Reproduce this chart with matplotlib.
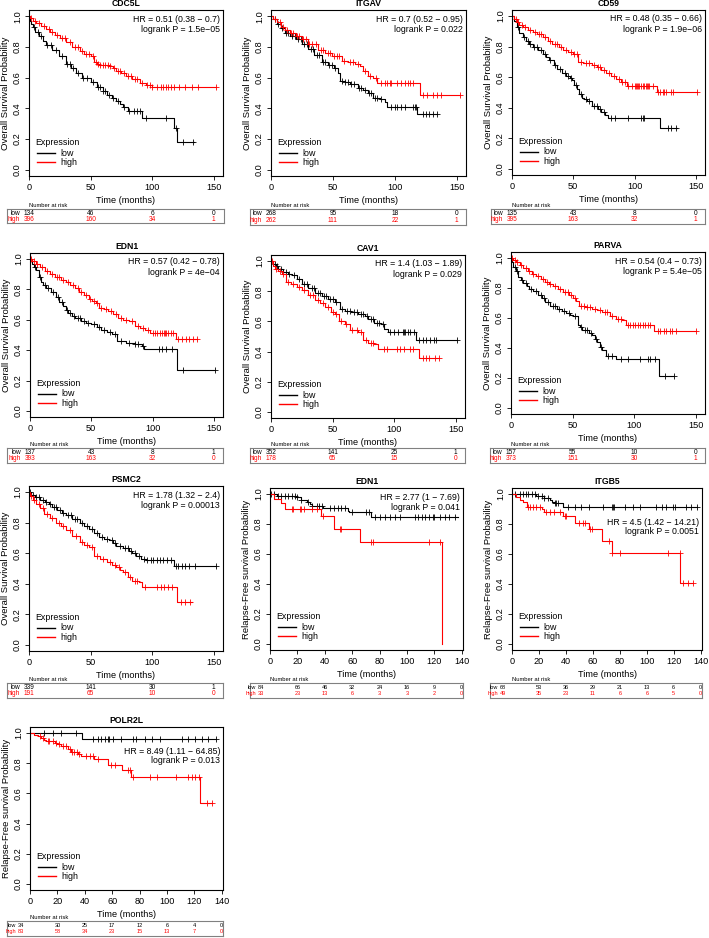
import matplotlib
matplotlib.use('Agg')
import matplotlib.pyplot as plt
import numpy as np
from matplotlib import transforms as mtrans

plt.rcParams['font.family'] = ['Liberation Sans', 'DejaVu Sans']

# ---------------- data ----------------
titles = ["CDC5L", "ITGAV", "CD59", "EDN1", "CAV1", "PARVA", "PSMC2", "EDN1", "ITGB5", "POLR2L"]
hr_lines = ["HR = 0.51 (0.38 \u2212 0.7)", "HR = 0.7 (0.52 \u2212 0.95)", "HR = 0.48 (0.35 \u2212 0.66)",
            "HR = 0.57 (0.42 \u2212 0.78)", "HR = 1.4 (1.03 \u2212 1.89)", "HR = 0.54 (0.4 \u2212 0.73)",
            "HR = 1.78 (1.32 \u2212 2.4)", "HR = 2.77 (1 \u2212 7.69)", "HR = 4.5 (1.42 \u2212 14.21)",
            "HR = 8.49 (1.11 \u2212 64.85)"]
p_lines = ["logrank P = 1.5e\u221205", "logrank P = 0.022", "logrank P = 1.9e\u221206",
           "logrank P = 4e\u221204", "logrank P = 0.029", "logrank P = 5.4e\u221205",
           "logrank P = 0.00013", "logrank P = 0.041", "logrank P = 0.0051", "logrank P = 0.013"]
endpoint = ["OS", "OS", "OS", "OS", "OS", "OS", "OS", "RFS", "RFS", "RFS"]

os_risk_times = [0, 50, 100, 150]
rfs_risk_times = [0, 20, 40, 60, 80, 100, 120, 140]
risk_low = [[134, 46, 6, 0], [268, 95, 18, 0], [135, 43, 8, 0], [137, 43, 8, 1], [352, 141, 25, 1],
            [157, 55, 10, 0], [339, 141, 30, 1], [84, 66, 46, 32, 24, 16, 9, 0],
            [68, 53, 36, 29, 21, 13, 6, 0], [34, 30, 25, 17, 12, 6, 4, 0]]
risk_high = [[396, 160, 34, 1], [262, 111, 22, 1], [395, 163, 32, 1], [393, 163, 32, 0], [178, 65, 15, 0],
             [373, 151, 30, 1], [191, 65, 10, 0], [33, 23, 13, 6, 3, 3, 2, 0],
             [49, 35, 23, 11, 6, 6, 5, 0], [83, 58, 34, 23, 15, 13, 7, 0]]

# CDC5L
cdc5l_low_t = [0, 1, 2, 3.2, 5, 8, 11, 14, 19, 24, 30, 34, 38, 43, 50, 55, 60, 63, 67, 71, 74, 76, 80, 92, 118, 120, 134]
cdc5l_low_s = [1, .97, .95, .93, .90, .87, .84, .81, .78, .74, .69, .66, .63, .60, .57, .54, .51, .49, .47, .45, .43, .41, .385, .34, .27, .18, .18]
cdc5l_low_c = [4, 7, 10, 15, 18, 22, 27, 31, 33, 36, 40, 44, 47, 52, 56, 58, 60, 62, 65, 68, 72, 77, 81, 85, 88, 90, 95, 111, 119, 125, 133]
cdc5l_high_t = [0, 1, 3, 6, 10, 14, 17, 21, 25, 30, 35, 41, 45, 50, 53, 55, 57, 65, 68, 71, 75, 79, 84, 90, 95, 100, 152]
cdc5l_high_s = [1, .99, .97, .955, .935, .915, .90, .88, .86, .83, .80, .77, .755, .74, .70, .69, .68, .675, .66, .645, .63, .61, .59, .565, .55, .54, .54]
cdc5l_high_c = [2, 5, 8, 12, 16, 19, 23, 27, 29, 33, 37, 40, 43, 46, 49, 52, 54, 56, 58, 60, 62, 64, 66, 69, 72, 74, 77, 80, 83, 86, 88, 92, 96, 98, 100, 104, 107, 109, 111, 113, 115, 118, 122, 127, 132, 137, 152]

# ITGAV
itgav_low_t = [0, 2, 5, 8, 11, 15, 20, 25, 30, 35, 41, 46, 51, 54, 56, 60, 64, 70, 74, 78, 82, 88, 92, 94, 118, 134]
itgav_low_s = [1, .98, .95, .92, .89, .87, .85, .82, .785, .75, .70, .68, .665, .63, .58, .57, .56, .53, .52, .50, .47, .46, .44, .41, .365, .365]
itgav_low_c = [3, 6, 9, 12, 14, 17, 19, 22, 24, 27, 29, 32, 34, 37, 39, 42, 44, 47, 49, 52, 57, 60, 62, 65, 67, 71, 73, 76, 79, 81, 84, 86, 89, 97, 100, 102, 105, 108, 115, 116, 117, 123, 125, 128, 131, 134]
itgav_high_t = [0, 2, 5, 8, 11, 15, 20, 25, 30, 38, 44, 49, 57, 62, 68, 72, 74, 78, 82, 86, 120, 153]
itgav_high_s = [1, .98, .96, .93, .91, .89, .87, .85, .82, .78, .76, .74, .71, .70, .69, .675, .64, .61, .60, .565, .49, .49]
itgav_high_c = [3, 7, 10, 13, 16, 18, 21, 23, 26, 28, 31, 33, 36, 40, 42, 46, 48, 51, 53, 55, 59, 64, 66, 70, 76, 80, 85, 89, 92, 94, 96, 97, 102, 105, 108, 111, 112, 115, 123, 126, 131, 134, 137, 153]

# CD59
cd59_low_t = [0, 2, 4, 6, 9, 11.5, 14, 17, 21, 25, 28, 30, 34, 37, 41, 44, 47, 49, 51, 53, 55, 57, 59, 61, 65, 70, 73, 76, 78, 121, 135]
cd59_low_s = [1, .97, .93, .89, .86, .84, .82, .80, .78, .755, .73, .71, .68, .655, .63, .61, .595, .58, .55, .52, .49, .465, .455, .445, .41, .39, .37, .35, .33, .265, .265]
cd59_low_c = [5, 10, 13, 15, 18, 20, 24, 27, 31, 35, 39, 43, 46, 48, 52, 56, 60, 63, 67, 69, 72, 75, 81, 84, 95, 105, 107, 108, 127, 130, 134]
cd59_high_t = [0, 2, 4, 6, 9, 13, 17, 20, 25, 29, 33, 38, 42, 46, 50, 52, 54, 58, 62, 65, 69, 73, 77, 81, 85, 89, 94, 97, 118, 151]
cd59_high_s = [1, .98, .96, .945, .93, .91, .895, .88, .86, .84, .815, .80, .78, .765, .755, .75, .70, .695, .69, .68, .665, .65, .63, .61, .59, .57, .545, .54, .50, .50]
cd59_high_c = [3, 5, 8, 11, 15, 19, 22, 24, 27, 31, 35, 37, 40, 44, 48, 51, 53, 56, 60, 63, 67, 70, 72, 75, 79, 83, 87, 90, 92, 95, 98, 100, 101, 102, 103, 104, 105, 107, 108, 109, 110, 111, 112, 115, 119, 121, 123, 124, 126, 130, 131, 151]

# EDN1 (OS)
edn1_low_t = [0, 2, 3.5, 5, 7, 9, 11, 13, 17, 21, 24, 27, 29, 31, 34, 37, 42, 46, 50, 55, 58, 63, 67, 71, 78, 86, 91, 93, 120, 151]
edn1_low_s = [1, .97, .95, .925, .88, .85, .83, .81, .78, .75, .72, .69, .665, .645, .625, .61, .595, .58, .57, .55, .53, .52, .505, .46, .45, .44, .43, .41, .27, .27]
edn1_low_c = [4, 8, 12, 15, 19, 23, 26, 30, 33, 36, 39, 41, 44, 47, 52, 56, 60, 65, 69, 74, 81, 86, 88, 92, 105, 108, 111, 116, 125, 151]
edn1_high_t = [0, 2, 5, 8, 12, 16, 20, 25, 29, 33, 37, 40, 44, 48, 51, 54, 56, 60, 64, 68, 72, 76, 81, 86, 90, 94, 98, 119, 136]
edn1_high_s = [1, .985, .965, .945, .92, .90, .885, .865, .85, .83, .81, .785, .765, .74, .725, .71, .68, .67, .66, .635, .61, .60, .59, .56, .545, .53, .515, .475, .475]
edn1_high_c = [1, 3, 6, 10, 14, 18, 22, 24, 27, 31, 35, 39, 42, 46, 49, 52, 55, 58, 62, 66, 70, 74, 78, 83, 88, 92, 96, 100, 102, 104, 106, 108, 109, 110, 111, 113, 115, 117, 121, 124, 127, 130, 133, 136]

# CAV1
cav1_low_t = [0, 2, 4, 6, 10, 14, 17, 21, 25, 30, 36, 41, 46, 52, 56, 60, 65, 71, 76, 79, 84, 89, 92, 95, 118, 151]
cav1_low_s = [1, .98, .965, .95, .93, .915, .905, .88, .85, .82, .79, .77, .75, .73, .68, .67, .665, .65, .635, .617, .59, .585, .55, .53, .475, .475]
cav1_low_c = [3, 5, 8, 12, 15, 19, 23, 27, 29, 33, 35, 38, 40, 43, 45, 48, 50, 53, 58, 62, 64, 67, 70, 73, 75, 78, 81, 83, 86, 88, 91, 97, 100, 103, 107, 108, 109, 111, 113, 116, 120, 123, 126, 129, 132, 134, 151]
cav1_high_t = [0, 2, 3.5, 6, 9, 12, 16, 21, 25, 30, 36, 40, 44, 49, 52, 55, 60, 64, 71, 75, 79, 84, 87, 120, 136]
cav1_high_s = [1, .97, .95, .935, .915, .86, .85, .83, .805, .775, .74, .72, .695, .66, .65, .605, .585, .54, .53, .475, .46, .45, .415, .36, .36]
cav1_high_c = [1, 4, 7, 10, 14, 18, 23, 27, 32, 34, 38, 42, 46, 50, 53, 57, 61, 66, 70, 73, 77, 81, 83, 92, 94, 102, 105, 108, 113, 115, 123, 126, 128, 133, 136]

# PARVA
parva_low_t = [0, 1, 2, 4, 6, 8, 10, 13, 15, 18, 22, 25, 28, 32, 37, 41, 45, 48, 50, 54, 56, 58, 63, 66, 68, 70, 72, 74, 77, 85, 120, 132]
parva_low_s = [1, .97, .94, .91, .87, .85, .835, .81, .795, .78, .75, .73, .705, .68, .66, .645, .63, .62, .61, .555, .54, .52, .50, .485, .46, .44, .41, .387, .35, .33, .215, .215]
parva_low_c = [3, 5, 9, 12, 16, 20, 24, 27, 30, 34, 36, 39, 43, 47, 52, 57, 60, 62, 65, 69, 73, 79, 82, 89, 95, 105, 111, 113, 117, 125, 132]
parva_high_t = [0, 2, 4, 7, 10, 14, 17, 20, 24, 28, 31, 34, 38, 42, 47, 50, 53, 55, 60, 66, 70, 74, 80, 85, 90, 93, 116, 150]
parva_high_s = [1, .985, .97, .955, .935, .91, .895, .88, .86, .84, .825, .815, .79, .77, .75, .735, .715, .68, .675, .66, .65, .64, .615, .595, .585, .55, .515, .515]
parva_high_c = [1, 3, 5, 8, 12, 15, 18, 22, 26, 29, 32, 36, 40, 44, 46, 49, 52, 57, 59, 62, 64, 68, 72, 76, 78, 82, 87, 89, 95, 97, 99, 101, 103, 105, 107, 109, 111, 113, 119, 121, 124, 126, 129, 131, 134, 150]

# PSMC2
psmc2_low_t = [0, 2, 5, 9, 13, 16, 19, 23, 27, 30, 35, 41, 45, 49, 53, 57, 61, 65, 68, 71, 76, 81, 84, 87, 91, 95, 118, 152]
psmc2_low_s = [1, .98, .965, .95, .935, .92, .905, .885, .865, .85, .825, .795, .78, .76, .73, .705, .695, .685, .67, .65, .635, .615, .60, .58, .565, .555, .515, .515]
psmc2_low_c = [1, 3, 6, 8, 11, 14, 17, 20, 22, 25, 28, 32, 34, 37, 39, 43, 47, 51, 55, 59, 63, 67, 70, 74, 78, 80, 83, 86, 89, 93, 96, 99, 101, 104, 106, 109, 112, 115, 119, 121, 124, 127, 130, 135, 152]
psmc2_high_t = [0, 1, 3, 6, 9, 12, 17, 22, 26, 30, 35, 41, 45, 49, 53, 58, 63, 67, 71, 74, 76, 80, 84, 89, 92, 120, 132]
psmc2_high_s = [1, .975, .95, .92, .895, .86, .83, .80, .775, .75, .71, .675, .655, .64, .585, .565, .54, .525, .51, .49, .475, .445, .42, .41, .38, .28, .28]
psmc2_high_c = [2, 4, 8, 11, 15, 19, 24, 28, 33, 38, 43, 47, 51, 55, 60, 66, 70, 73, 78, 82, 86, 88, 94, 104, 107, 110, 113, 116, 123, 127, 131]

# EDN1 (RFS)
edn1r_low_t = [0, 5, 19, 23, 27, 29, 31, 39, 57, 58, 74, 137]
edn1r_low_s = [1, .99, .978, .96, .945, .933, .922, .91, .89, .878, .845, .845]
edn1r_low_c = [1, 3, 6, 8, 11, 13, 16, 18, 20, 23, 28, 31, 34, 36, 38, 44, 47, 50, 52, 55, 60, 70, 72, 77, 80, 84, 88, 91, 95, 106, 108, 111, 113, 116, 119, 120, 124, 128, 131, 135]
edn1r_high_t = [0, 3, 8, 11, 37, 47, 66, 125.5]
edn1r_high_s = [1, .97, .94, .90, .855, .767, .68, 0]
edn1r_high_c = [16, 17, 22, 23, 25, 31, 34, 39, 51, 52, 74, 75, 116, 124]

# ITGB5
itgb5_low_t = [0, 18, 24, 28, 30, 32, 38, 137]
itgb5_low_s = [1, .985, .975, .96, .95, .94, .915, .915]
itgb5_low_c = [2, 6, 8, 10.5, 12, 14.5, 17, 19, 22, 24, 27, 32, 33, 34, 41.5, 46.5, 51.5, 57.5, 67.5, 74, 75, 76, 84, 90, 95, 107, 111, 114.5, 119.5, 121, 129, 133, 137]
itgb5_high_t = [0, 3, 6, 8, 11, 22, 23.5, 38, 47, 57, 67, 74, 125, 134]
itgb5_high_s = [1, .98, .96, .945, .915, .897, .88, .855, .81, .765, .685, .61, .41, .41]
itgb5_high_c = [12, 13, 15.5, 18, 20.5, 25.5, 28, 31.5, 35.5, 39, 40, 50, 52.5, 54, 58, 59, 72, 74.5, 80, 116, 124.5, 127, 130.5, 134]

# POLR2L
polr2l_low_t = [0, 38, 136]
polr2l_low_s = [1, .96, .96]
polr2l_low_c = [10.5, 16.5, 22.5, 33.5, 46, 49.5, 52, 54.5, 57, 58, 60.5, 66.5, 75, 77.5, 84, 89, 95, 111, 115.5, 120.5, 125.5, 130, 136]
polr2l_high_t = [0, 3, 6, 8, 10.5, 12, 18, 20, 23, 27.5, 30, 35, 37, 47, 57, 67, 74, 124, 133]
polr2l_high_s = [1, .99, .98, .97, .955, .945, .935, .925, .915, .895, .875, .86, .85, .825, .79, .755, .71, .535, .535]
polr2l_high_c = [7, 9.5, 13, 14, 16.5, 19, 21.5, 24, 26.5, 29, 31, 32.5, 34, 36, 41, 43.5, 46, 49.5, 59.5, 62, 71.5, 73, 75.5, 87.5, 92.5, 107, 115.5, 118, 120.5, 123.5, 129, 133]

low_curves = [(cdc5l_low_t, cdc5l_low_s, cdc5l_low_c), (itgav_low_t, itgav_low_s, itgav_low_c),
              (cd59_low_t, cd59_low_s, cd59_low_c), (edn1_low_t, edn1_low_s, edn1_low_c),
              (cav1_low_t, cav1_low_s, cav1_low_c), (parva_low_t, parva_low_s, parva_low_c),
              (psmc2_low_t, psmc2_low_s, psmc2_low_c), (edn1r_low_t, edn1r_low_s, edn1r_low_c),
              (itgb5_low_t, itgb5_low_s, itgb5_low_c), (polr2l_low_t, polr2l_low_s, polr2l_low_c)]
high_curves = [(cdc5l_high_t, cdc5l_high_s, cdc5l_high_c), (itgav_high_t, itgav_high_s, itgav_high_c),
               (cd59_high_t, cd59_high_s, cd59_high_c), (edn1_high_t, edn1_high_s, edn1_high_c),
               (cav1_high_t, cav1_high_s, cav1_high_c), (parva_high_t, parva_high_s, parva_high_c),
               (psmc2_high_t, psmc2_high_s, psmc2_high_c), (edn1r_high_t, edn1r_high_s, edn1r_high_c),
               (itgb5_high_t, itgb5_high_s, itgb5_high_c), (polr2l_high_t, polr2l_high_s, polr2l_high_c)]

# ---------------- layout (pixels) ----------------
W, H = 709, 938
axes_boxes = [(29, 10, 223, 176), (271, 10, 466, 176), (512, 10, 705, 175),
              (30, 253, 223, 417), (271, 255, 465, 418), (511, 252, 705, 414),
              (29, 486, 223, 651), (270, 488, 463, 650), (512, 488, 702, 650),
              (30, 727, 223, 890)]
table_boxes = [(7, 209, 224, 223), (250, 209, 466, 225), (491, 209, 705, 224),
               (7, 448, 223, 463), (250, 448, 465, 463), (490, 448, 705, 463),
               (7, 683, 223, 698), (250, 683, 463, 698), (490, 683, 702, 698),
               (7, 921, 223, 936)]
hr_offsets = [(9, 19.5)] * 8 + [(34, 44), (24, 33)]

fig = plt.figure(figsize=(W / 100, H / 100), dpi=100)


def px_axes(l, t, r, b):
    return fig.add_axes([l / W, 1 - b / H, (r - l) / W, (b - t) / H])


def draw_curve(ax, t, s, c, color):
    t = np.asarray(t, float)
    s = np.asarray(s, float)
    ax.step(t, s, where='post', color=color, lw=0.8)
    c = np.asarray(c, float)
    idx = np.clip(np.searchsorted(t, c, side='right') - 1, 0, len(s) - 1)
    ax.plot(c, s[idx], ls='none', marker='+', ms=4, mew=0.6, color=color)


for i in range(10):
    l, t, r, b = axes_boxes[i]
    wpx, hpx = r - l, b - t
    ax = px_axes(l, t, r, b)
    os_ = endpoint[i] == "OS"
    draw_curve(ax, *low_curves[i], 'black')
    draw_curve(ax, *high_curves[i], 'red')
    ax.set_ylim(-0.04, 1.04)
    if os_:
        ax.set_xlim(0, 157.5)
        rt = os_risk_times
        ax.set_xticks([0, 50, 100, 150])
        ax.set_ylabel("Overall Survival Probability", fontsize=6.8)
        tab_fs = 4.7
    else:
        ax.set_xlim(0, 141)
        rt = rfs_risk_times
        ax.set_xticks(rt)
        ax.set_ylabel("Relapse-Free survival Probability", fontsize=6.8)
        tab_fs = 4.0
    ax.set_yticks([0, 0.2, 0.4, 0.6, 0.8, 1.0])
    ax.set_yticklabels(["0.0", "0.2", "0.4", "0.6", "0.8", "1.0"])
    ax.tick_params(direction='out', length=3, width=0.6, labelsize=6.6, pad=2)
    ax.tick_params(axis='y', labelrotation=90)
    for lab in ax.get_yticklabels():
        lab.set_va('center')
    for sp in ax.spines.values():
        sp.set_linewidth(0.8)
    ax.yaxis.set_label_coords(-19 / wpx, 0.5)
    ax.set_xlabel("Time (months)", fontsize=6.6, labelpad=3)
    ax.set_title(titles[i], fontsize=6.2, fontweight='bold', pad=3)
    # HR text
    o1, o2 = hr_offsets[i]
    ax.text(1 - 3 / wpx, 1 - o1 / hpx, hr_lines[i], transform=ax.transAxes, ha='right', va='center', fontsize=6.3)
    ax.text(1 - 3 / wpx, 1 - o2 / hpx, p_lines[i], transform=ax.transAxes, ha='right', va='center', fontsize=6.3)
    # legend
    ax.text(6 / wpx, 34 / hpx, "Expression", transform=ax.transAxes, ha='left', va='center', fontsize=6.4)
    ax.plot([8 / wpx, 26 / wpx], [23 / hpx, 23 / hpx], transform=ax.transAxes, color='black', lw=1)
    ax.plot([8 / wpx, 26 / wpx], [14 / hpx, 14 / hpx], transform=ax.transAxes, color='red', lw=1)
    ax.text(31 / wpx, 23 / hpx, "low", transform=ax.transAxes, ha='left', va='center', fontsize=6.4)
    ax.text(31 / wpx, 14 / hpx, "high", transform=ax.transAxes, ha='left', va='center', fontsize=6.4)

    # risk table
    tax = px_axes(*table_boxes[i])
    tax.set_xticks([])
    tax.set_yticks([])
    for sp in tax.spines.values():
        sp.set_color('#808080')
        sp.set_linewidth(0.8)
    tr = mtrans.blended_transform_factory(ax.transData, tax.transAxes)
    first_dx = 0 if os_ else -9
    label_dx = -9 if os_ else -14
    for k, (tm, lo, hi) in enumerate(zip(rt, risk_low[i], risk_high[i])):
        trk = mtrans.offset_copy(tr, fig=fig, x=first_dx if k == 0 else 0, y=0, units='dots')
        tax.text(tm, 0.70, str(lo), transform=trk, ha='center', va='center', fontsize=tab_fs, color='black')
        tax.text(tm, 0.28, str(hi), transform=trk, ha='center', va='center', fontsize=tab_fs, color='red')
    trl = mtrans.offset_copy(tr, fig=fig, x=label_dx, y=0, units='dots')
    tax.text(0, 0.70, "low", transform=trl, ha='right', va='center', fontsize=tab_fs, color='black')
    tax.text(0, 0.28, "high", transform=trl, ha='right', va='center', fontsize=tab_fs, color='red')
    trn = mtrans.offset_copy(tr, fig=fig, x=0, y=1, units='dots')
    tax.text(0, 1.0, "Number at risk", transform=trn, ha='left', va='bottom', fontsize=4.2)

fig.savefig("out.png", dpi=100)
